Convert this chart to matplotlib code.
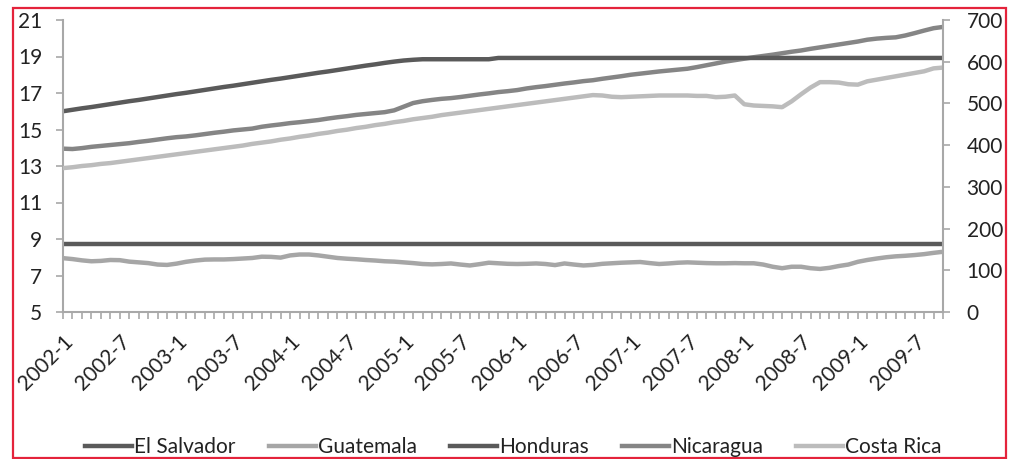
import matplotlib
matplotlib.use("Agg")
import matplotlib.pyplot as plt
from matplotlib.patches import Rectangle

plt.rcParams["font.family"] = ["Lato", "DejaVu Sans"]

# monthly observations 2002-1 .. 2009-10
months = [f"{y}-{m}" for y in range(2002, 2010) for m in range(1, 13)][:94]

el_salvador = [8.75] * 94

guatemala = [7.95, 7.90, 7.83, 7.78, 7.80, 7.85, 7.84, 7.76, 7.72, 7.68,
             7.60, 7.58, 7.65, 7.75, 7.82, 7.87, 7.88, 7.88, 7.90, 7.93,
             7.96, 8.03, 8.02, 7.98, 8.10, 8.15, 8.15, 8.10, 8.03, 7.96,
             7.92, 7.89, 7.85, 7.82, 7.78, 7.76, 7.72, 7.68, 7.63, 7.61,
             7.63, 7.66, 7.60, 7.55, 7.62, 7.70, 7.67, 7.64, 7.63, 7.64,
             7.66, 7.63, 7.57, 7.66, 7.60, 7.55, 7.58, 7.64, 7.67, 7.70,
             7.72, 7.74, 7.68, 7.63, 7.66, 7.70, 7.72, 7.70, 7.68, 7.67,
             7.67, 7.68, 7.67, 7.67, 7.60, 7.48, 7.40, 7.48, 7.48, 7.40,
             7.36, 7.42, 7.52, 7.60, 7.75, 7.85, 7.93, 8.00, 8.05, 8.08,
             8.12, 8.17, 8.24, 8.30]

honduras = [16.00, 16.08, 16.16, 16.23, 16.31, 16.39, 16.47, 16.55, 16.62, 16.70,
            16.78, 16.86, 16.94, 17.01, 17.09, 17.17, 17.25, 17.33, 17.40, 17.48,
            17.56, 17.64, 17.72, 17.79, 17.87, 17.95, 18.03, 18.11, 18.18, 18.26,
            18.34, 18.42, 18.50, 18.57, 18.65, 18.72, 18.78, 18.82] \
    + [18.85] * 8 + [18.92] * 48

nicaragua = [13.95, 13.93, 13.98, 14.05, 14.10, 14.15, 14.20, 14.25, 14.32, 14.38,
             14.45, 14.52, 14.58, 14.62, 14.68, 14.75, 14.82, 14.88, 14.95, 15.00,
             15.05, 15.15, 15.22, 15.28, 15.35, 15.40, 15.46, 15.52, 15.60, 15.67,
             15.73, 15.80, 15.85, 15.90, 15.95, 16.05, 16.25, 16.45, 16.55, 16.62,
             16.68, 16.72, 16.78, 16.85, 16.92, 16.98, 17.05, 17.10, 17.16, 17.25,
             17.32, 17.38, 17.45, 17.52, 17.58, 17.65, 17.70, 17.78, 17.85, 17.92,
             18.00, 18.06, 18.12, 18.18, 18.23, 18.28, 18.33, 18.42, 18.52, 18.62,
             18.72, 18.80, 18.88, 18.96, 19.03, 19.10, 19.18, 19.26, 19.33, 19.42,
             19.50, 19.58, 19.66, 19.74, 19.82, 19.92, 19.98, 20.02, 20.05, 20.15,
             20.28, 20.42, 20.55, 20.62]

costa_rica = [345, 347, 350, 352, 355, 357, 360, 363, 366, 369,
              372, 375, 378, 381, 384, 387, 390, 393, 396, 399,
              403, 406, 409, 413, 416, 420, 423, 427, 430, 434,
              437, 441, 444, 448, 451, 455, 458, 462, 465, 468,
              472, 475, 478, 481, 484, 487, 490, 493, 496, 499,
              502, 505, 508, 511, 514, 517, 520, 519, 516, 515,
              516, 517, 518, 519, 519, 519, 519, 518, 518, 515,
              516, 519, 498, 495, 494, 493, 491, 505, 522, 538,
              551, 551, 550, 546, 545, 553, 557, 561, 565, 569,
              573, 577, 584, 586]

left_ticks = [5, 7, 9, 11, 13, 15, 17, 19, 21]
right_ticks = [0, 100, 200, 300, 400, 500, 600, 700]

DARK, MID, LIGHT, LIGHTER = "#5a5a5a", "#858585", "#a6a6a6", "#bcbcbc"
GRID = "#a8a8a8"
FS = 15

fig = plt.figure(figsize=(10.09, 4.59), dpi=100)
ax = fig.add_axes([63 / 1009, 147 / 459, 880 / 1009, 292 / 459])
ax2 = ax.twinx()

x = list(range(len(months)))
l_gt, = ax.plot(x, guatemala, color=LIGHT, lw=3.2, label="Guatemala")
l_ni, = ax.plot(x, nicaragua, color=MID, lw=3.2, label="Nicaragua")
l_sv, = ax.plot(x, el_salvador, color=DARK, lw=3.2, label="El Salvador")
l_hn, = ax.plot(x, honduras, color=DARK, lw=3.2, label="Honduras")
l_cr, = ax2.plot(x, costa_rica, color=LIGHTER, lw=3.2, label="Costa Rica")

ax.set_xlim(0, len(months) - 1)
ax.set_ylim(5, 21)
ax2.set_ylim(0, 700)
ax.set_yticks(left_ticks)
ax2.set_yticks(right_ticks)
ax.set_xticks(x)
ax.set_xticklabels([m if i % 6 == 0 else "" for i, m in enumerate(months)],
                   rotation=45, ha="right", rotation_mode="anchor")

for a in (ax, ax2):
    for s in a.spines.values():
        s.set_visible(False)
    a.tick_params(colors=GRID, labelcolor="#222222", labelsize=FS,
                  length=5, width=1.2, direction="out")
ax.spines["left"].set_visible(True)
ax.spines["bottom"].set_visible(True)
ax2.spines["right"].set_visible(True)
for s in (ax.spines["left"], ax.spines["bottom"], ax2.spines["right"]):
    s.set_color(GRID)
    s.set_linewidth(1.5)
ax.tick_params(axis="y", pad=10)
ax2.tick_params(axis="y", pad=12)
ax.tick_params(axis="x", pad=9)

fig.legend(handles=[l_sv, l_gt, l_hn, l_ni, l_cr], loc="center",
           bbox_to_anchor=(0.509, 0.026), ncol=5, frameon=False,
           fontsize=FS, handlelength=2.25, handletextpad=0.1,
           columnspacing=1.6, labelcolor="#222222")

fig.add_artist(Rectangle((13 / 1009, 1 / 459), 993 / 1009, 450 / 459,
                         transform=fig.transFigure, fill=False,
                         edgecolor="#e4233b", lw=1.6))

fig.savefig("out.png", dpi=100)
